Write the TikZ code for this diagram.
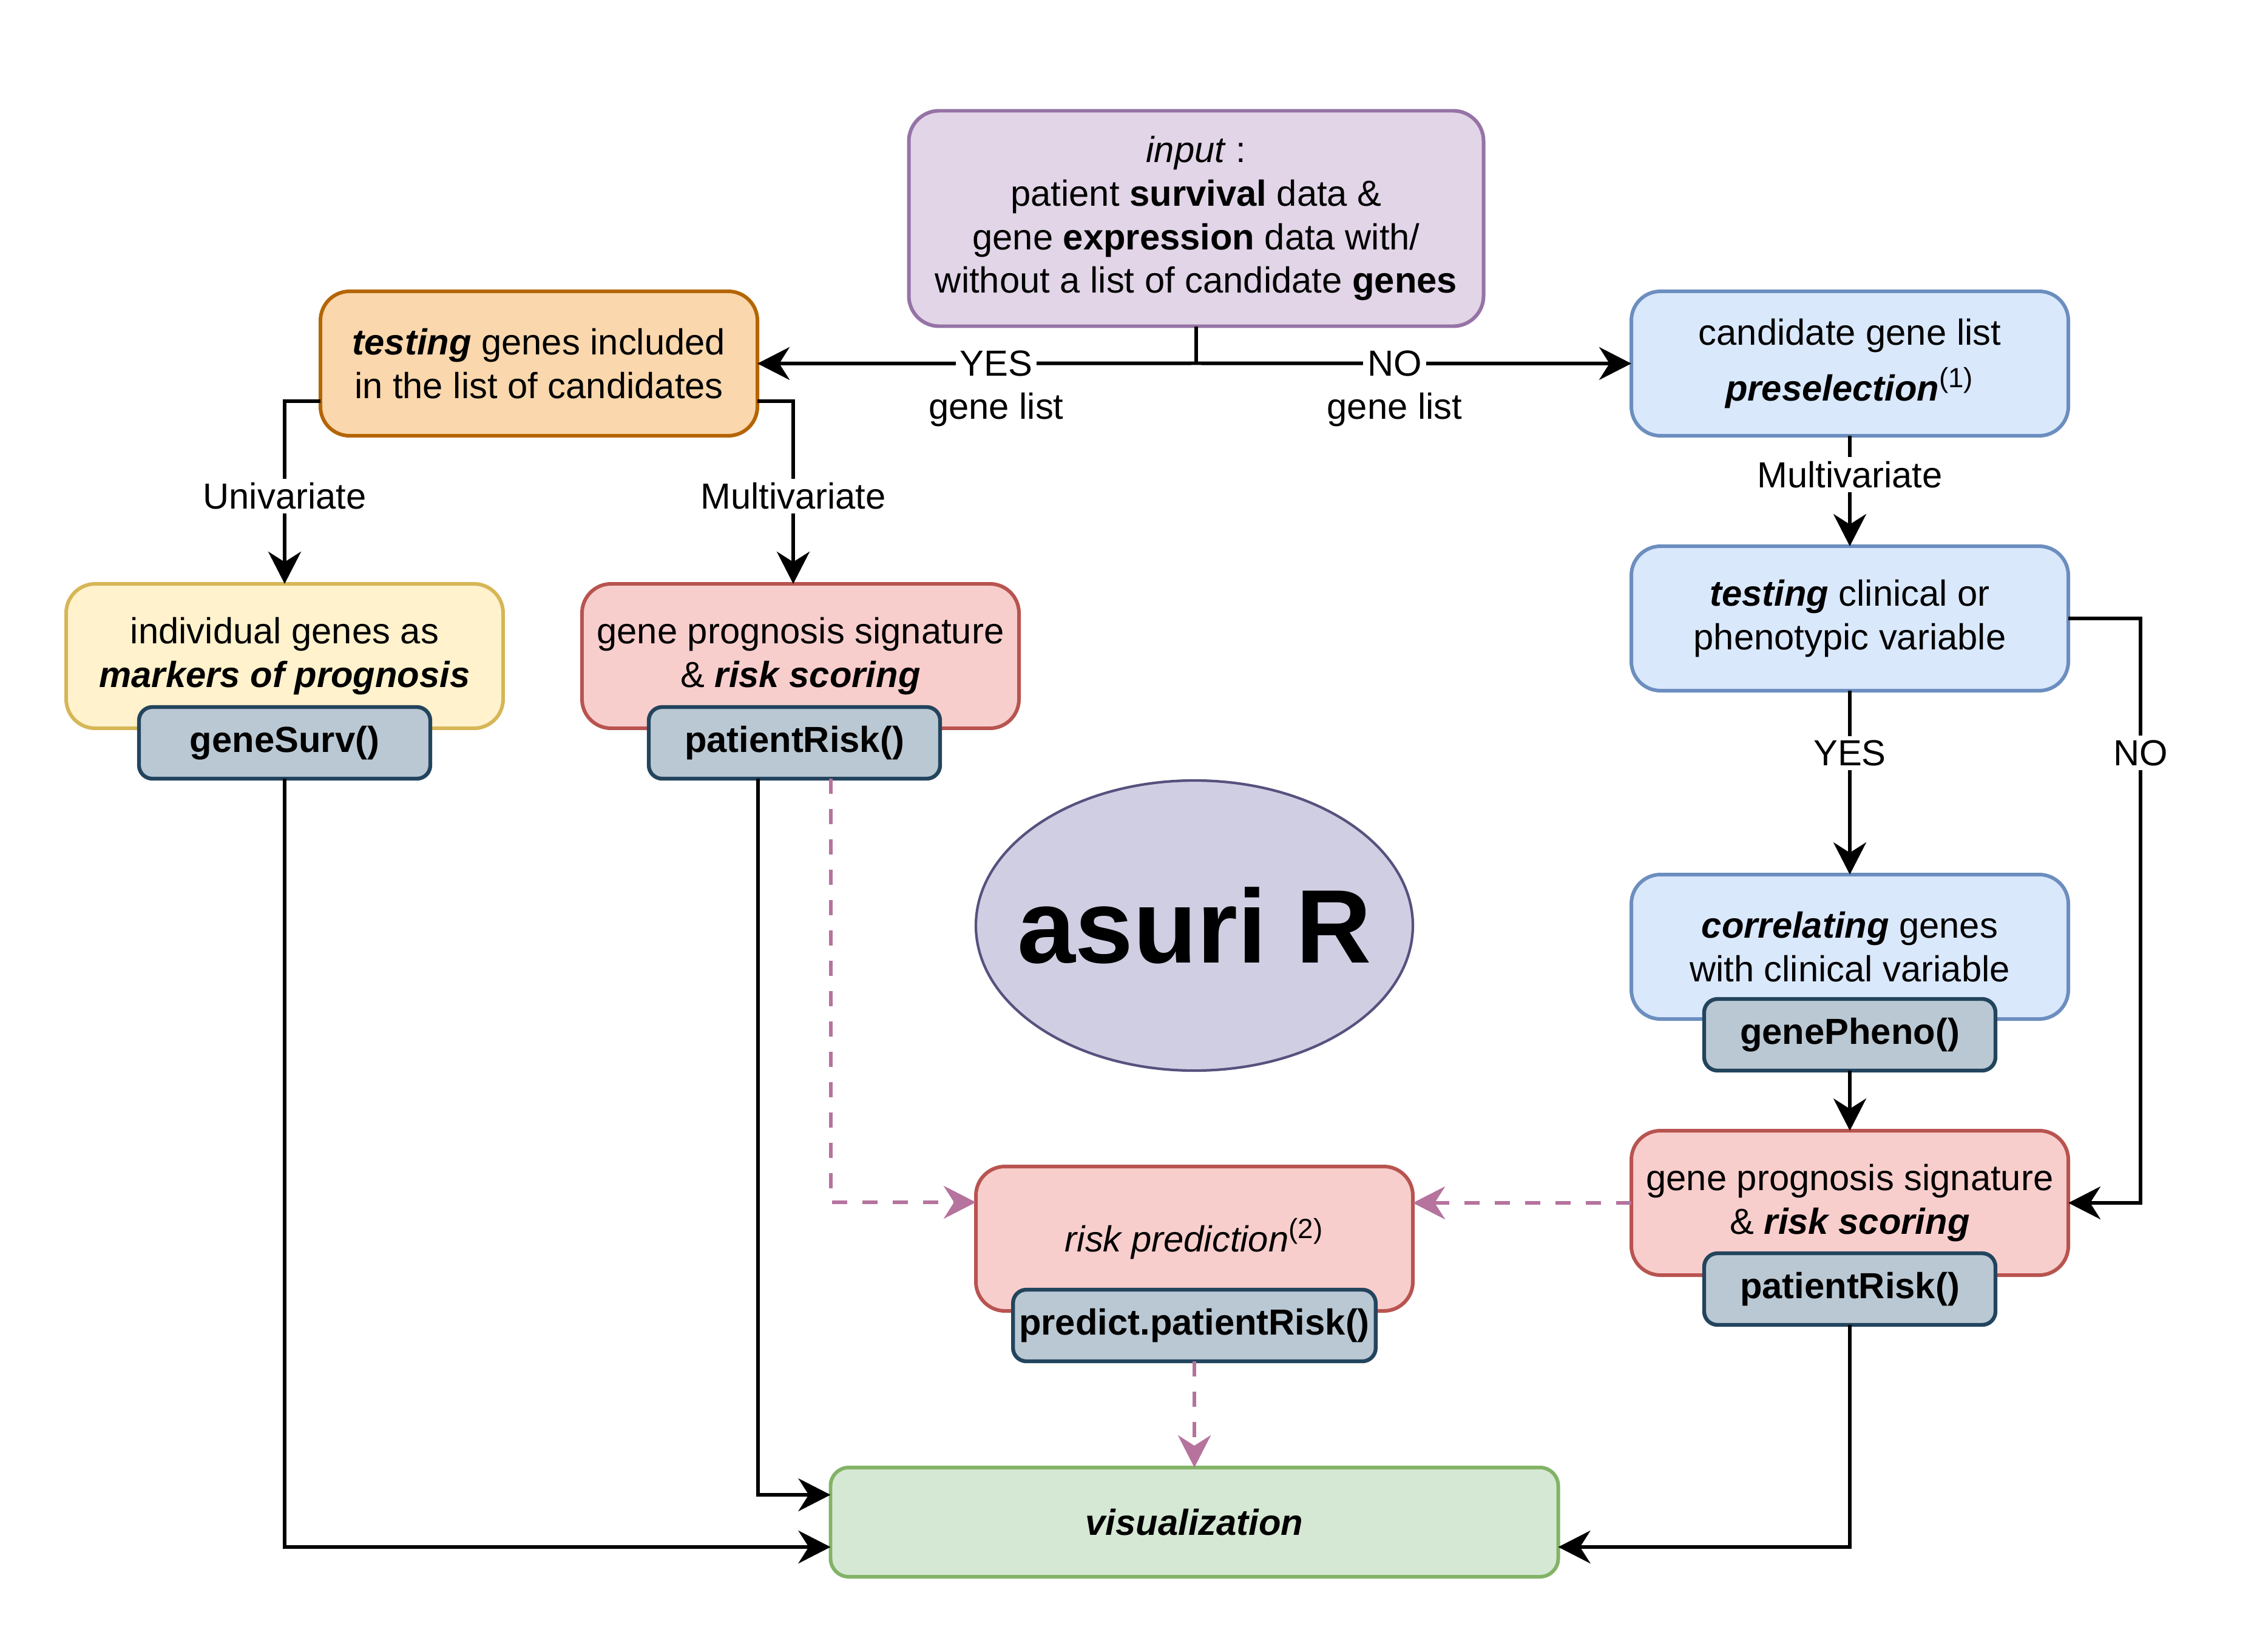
\documentclass[tikz,border=0pt]{standalone}
\usepackage{fontspec}
\setmainfont{Liberation Sans}
\usetikzlibrary{shapes.geometric,arrows.meta,positioning,calc}

\definecolor{inputfill}{HTML}{E1D5E7}
\definecolor{inputline}{HTML}{9673A6}
\definecolor{orangefill}{HTML}{FAD7AC}
\definecolor{orangeline}{HTML}{B46504}
\definecolor{bluefill}{HTML}{DAE8FC}
\definecolor{blueline}{HTML}{6C8EBF}
\definecolor{yellowfill}{HTML}{FFF2CC}
\definecolor{yellowline}{HTML}{D6B656}
\definecolor{redfill}{HTML}{F8CECC}
\definecolor{redline}{HTML}{B85450}
\definecolor{greenfill}{HTML}{D5E8D4}
\definecolor{greenline}{HTML}{82B366}
\definecolor{fnfill}{HTML}{BAC8D3}
\definecolor{fnline}{HTML}{23445D}
\definecolor{pkgfill}{HTML}{D0CEE2}
\definecolor{pkgline}{HTML}{56517E}
\definecolor{linkpink}{HTML}{B5739D}

\newcommand{\boxfont}{\fontsize{17pt}{20.4pt}\selectfont}
\newcommand{\refmark}[1]{\textsuperscript{\fontsize{13pt}{13pt}\selectfont\mdseries\upshape(#1)}}

\begin{document}
\begin{tikzpicture}[
  box/.style={rectangle, draw, rounded corners=0.48cm, line width=1.7pt, outer sep=0pt, minimum width=7.2cm, minimum height=2.38cm, align=center, inner sep=0.1cm, font=\boxfont},
  fnbox/.style={rectangle, draw=fnline, fill=fnfill, rounded corners=0.22cm, line width=1.8pt, outer sep=0pt, minimum width=4.8cm, minimum height=1.18cm, inner sep=0.1cm, font=\boxfont\bfseries},
  arrow/.style={-{Stealth[length=0.53cm, width=0.54cm, inset=0.17cm]}, line width=1.7pt},
  dasharrow/.style={arrow, draw=linkpink, dash pattern=on 0.25cm off 0.25cm},
  lbl/.style={fill=white, font=\boxfont, inner sep=2pt}
]
  \useasboundingbox (0,0) rectangle (37.14,-27.22);

  % top: input and the two branches
  \node[box, fill=inputfill, draw=inputline, minimum width=9.47cm, minimum height=3.55cm, rounded corners=0.5cm] (input) at (19.71,-3.60) {\textit{input} :\\patient \textbf{survival} data \&\\gene \textbf{expression} data with/\\without a list of candidate \textbf{genes}};
  \node[box, fill=orangefill, draw=orangeline] (testing) at (8.88,-5.99) {\textbf{\textit{testing}} genes included\\in the list of candidates};
  \node[box, fill=bluefill, draw=blueline] (cand) at (30.48,-5.99) {candidate gene list\\[6pt]\textbf{\textit{preselection}}\refmark{1}};

  % left column
  \node[box, fill=yellowfill, draw=yellowline] (indiv) at (4.69,-10.81) {individual genes as\\\textbf{\textit{markers of prognosis}}};
  \node[box, fill=redfill, draw=redline, right=1.3cm of indiv] (sigL) {gene prognosis signature\\\& \textbf{\textit{risk scoring}}};
  \node[fnbox, below=-0.35cm of indiv] (geneSurv) {geneSurv()};
  \node[fnbox, below=-0.35cm of sigL, xshift=-0.1cm] (riskL) {patientRisk()};

  % right column
  \node[box, fill=bluefill, draw=blueline, below=1.82cm of cand] (clin) {\textbf{\textit{testing}} clinical or\\phenotypic variable};
  \node[box, fill=bluefill, draw=blueline, below=3.03cm of clin] (correl) {\textbf{\textit{correlating}} genes\\with clinical variable};
  \node[fnbox, below=-0.33cm of correl] (genePheno) {genePheno()};
  \node[box, fill=redfill, draw=redline, below=0.99cm of genePheno] (sigR) {gene prognosis signature\\\& \textbf{\textit{risk scoring}}};
  \node[fnbox, below=-0.36cm of sigR] (riskR) {patientRisk()};

  % centre
  \node[ellipse, draw=pkgline, fill=pkgfill, line width=1.2pt, minimum width=7.2cm, minimum height=4.78cm, inner sep=0pt, font=\fontsize{49pt}{58pt}\selectfont\bfseries] (pkg) at (19.68,-15.25) {\makebox[0pt]{asuri R}};
  \node[box, fill=redfill, draw=redline] (predict) at (19.68,-20.41) {\textit{risk prediction}\refmark{2}};
  \node[fnbox, minimum width=5.97cm, below=-0.35cm of predict] (predictFn) {predict.patientRisk()};
  \node[box, fill=greenfill, draw=greenline, minimum width=11.99cm, minimum height=1.8cm, rounded corners=0.3cm] (vis) at (19.68,-25.08) {\textbf{\textit{visualization}}};

  % connectors
  \draw[line width=1.7pt] (input.south) -- ++(0,-0.61) coordinate (split);
  \draw[arrow] (split) -- node[lbl, pos=0.456]{YES} node[pos=0.456, yshift=-0.76cm, font=\boxfont]{gene list} (testing.east);
  \draw[arrow] (split) -- node[lbl, pos=0.456]{NO} node[pos=0.456, yshift=-0.76cm, font=\boxfont]{gene list} (cand.west);
  \draw[arrow] ([yshift=-0.62cm]testing.west) -| node[lbl, pos=0.76]{Univariate} (indiv.north);
  \draw[arrow] ([yshift=-0.62cm]testing.east) -| node[lbl, pos=0.76]{Multivariate} ([xshift=-0.12cm]sigL.north);
  \draw[arrow] (cand) -- node[lbl, pos=0.35]{Multivariate} (clin);
  \draw[arrow] (clin) -- node[lbl, pos=0.34]{YES} (correl);
  \draw[arrow] (clin.east) -- ++(1.19,0) |- node[lbl, pos=0.115]{NO} (sigR.east);
  \draw[arrow] (genePheno) -- (sigR);
  \draw[arrow] (geneSurv.south) |- ([yshift=-0.41cm]vis.west);
  \draw[arrow] ([xshift=-0.6cm]riskL.south) |- ([yshift=0.45cm]vis.west);
  \draw[arrow] (riskR.south) |- ([yshift=-0.41cm]vis.east);
  \draw[dasharrow] ([xshift=0.6cm]riskL.south) |- ([yshift=0.6cm]predict.west);
  \draw[dasharrow] (sigR.west) -- (predict.east |- sigR.west);
  \draw[dasharrow] (predictFn) -- (vis);
\end{tikzpicture}
\end{document}
